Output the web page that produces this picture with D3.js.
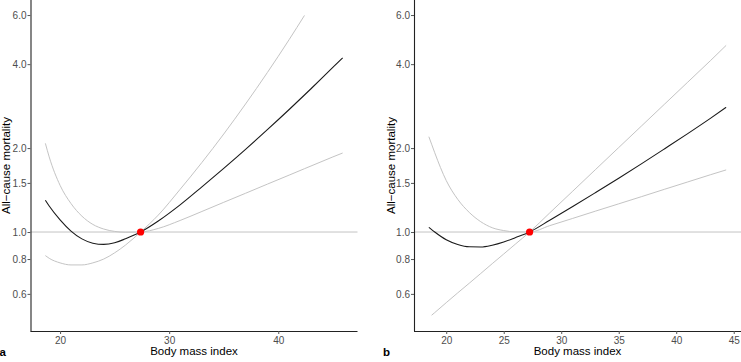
<!DOCTYPE html>
<html>
<head>
<meta charset="utf-8">
<script src="https://cdn.jsdelivr.net/npm/d3@7"></script>
<style>
  body { margin: 0; background: #fff; }
  svg { display: block; font-family: "Liberation Sans", Arial, sans-serif; }
</style>
</head>
<body>
<svg id="chart" width="741" height="362"></svg>
<script>
'use strict'

//---------------------------Datos--------------------------------//
// panel a
var bmiA = [18.65, 19, 20, 21, 22, 23, 24, 25, 26, 27.38, 29, 31, 33, 35, 37, 39, 41, 42.4, 43, 45, 45.9];
var estA = [1.30, 1.24, 1.106, 1.008, 0.945, 0.912, 0.903, 0.915, 0.946, 1.0, 1.095, 1.251, 1.452, 1.692, 1.98, 2.329, 2.751, 3.10, 3.265, 3.893, 4.21];
var ci1A = [2.08, 1.86, 1.47, 1.265, 1.14, 1.065, 1.025, 1.005, 0.998, 1.0, 1.03, 1.10, 1.185, 1.278, 1.377, 1.485, 1.60, 1.687, 1.725, 1.859, 1.92];
var ci2A = [0.823, 0.805, 0.775, 0.762, 0.762, 0.775, 0.80, 0.842, 0.898, 1.0, 1.15, 1.422, 1.776, 2.246, 2.878, 3.732, 4.90, 5.98, null, null, null];
var refA = 27.38;

// panel b
var bmiB = [18.49, 18.73, 19, 20, 21, 22, 23, 24, 25, 26, 27.25, 29, 31, 33, 35, 37, 39, 41, 43, 44.34];
var estB = [1.039, 1.02, 1.0, 0.938, 0.902, 0.885, 0.884, 0.897, 0.921, 0.954, 1.0, 1.102, 1.234, 1.386, 1.559, 1.759, 1.99, 2.254, 2.562, 2.80];
var ci1B = [2.197, 2.065, 1.925, 1.53, 1.31, 1.176, 1.089, 1.036, 1.012, 1.001, 1.0, 1.054, 1.119, 1.189, 1.262, 1.34, 1.424, 1.512, 1.606, 1.670];
var ci2B = [null, 0.503, 0.514, 0.558, 0.605, 0.655, 0.710, 0.770, 0.834, 0.904, 1.0, 1.171, 1.401, 1.678, 2.009, 2.405, 2.879, 3.447, 4.127, 4.67];
var refB = 27.25;

var yTicks = [0.6, 0.8, 1.0, 1.5, 2.0, 4.0, 6.0];
var yLimits = [0.5, 6];
var xTicksA = [20, 30, 40];
var xTicksB = [20, 25, 30, 35, 40, 45];

//---------------------------Grafica--------------------------------//
var svg = d3.select('#chart');
var height = 331;

function expandLog(lim) {
  var l0 = Math.log(lim[0]), l1 = Math.log(lim[1]);
  var pad = (l1 - l0) * 0.05;
  return [Math.exp(l0 - pad), Math.exp(l1 + pad)];
}

function expandLin(lo, hi) {
  var pad = (hi - lo) * 0.05;
  return [lo - pad, hi + pad];
}

function drawPanel(opts) {
  var x = d3.scaleLinear().domain(expandLin(d3.min(opts.bmi), d3.max(opts.bmi))).range([opts.left, opts.right]);
  var y = d3.scaleLog().domain(expandLog(yLimits)).range([height, 0]);

  var g = svg.append('g');

  // linea de referencia en 1.0
  g.append('line')
    .attr('x1', opts.left).attr('x2', opts.right)
    .attr('y1', y(1)).attr('y2', y(1))
    .attr('stroke', '#c4c4c4').attr('stroke-width', 1);

  function serie(vals) {
    return opts.bmi.map(function (b, i) { return { b: b, v: vals[i] }; });
  }

  var linea = d3.line()
    .defined(function (d) { return d.v != null; })
    .x(function (d) { return x(d.b); })
    .y(function (d) { return y(d.v); })
    .curve(d3.curveMonotoneX);

  [opts.ci1, opts.ci2].forEach(function (vals) {
    g.append('path')
      .datum(serie(vals))
      .attr('fill', 'none')
      .attr('stroke', '#c4c4c4')
      .attr('stroke-width', 1)
      .attr('d', linea);
  });

  g.append('path')
    .datum(serie(opts.est))
    .attr('fill', 'none')
    .attr('stroke', '#1a1a1a')
    .attr('stroke-width', 1.1)
    .attr('d', linea);

  g.append('circle')
    .attr('cx', x(opts.ref)).attr('cy', y(1)).attr('r', 3.6)
    .attr('fill', '#ff0000');

  // ejes
  var ejeX = g.append('g')
    .attr('transform', 'translate(0,' + height + ')')
    .call(d3.axisBottom(x).tickValues(opts.xTicks).tickSize(3).tickPadding(2.5).tickSizeOuter(0));
  var ejeY = g.append('g')
    .attr('transform', 'translate(' + opts.left + ',0)')
    .call(d3.axisLeft(y).tickValues(yTicks).tickFormat(d3.format('.1f')).tickSize(3).tickPadding(1).tickSizeOuter(0));

  [ejeX, ejeY].forEach(function (ax) {
    ax.select('.domain').attr('stroke', '#222').attr('stroke-width', 1.1);
    ax.selectAll('.tick line').attr('stroke', '#555');
    ax.selectAll('.tick text').attr('fill', '#4d4d4d').style('font-size', '10px');
  });
  ejeY.select('.domain').attr('d', 'M0.5,0V' + (height + 0.5));
  ejeX.select('.domain').attr('d', 'M' + opts.left + ',0.5H' + opts.right);

  // titulos
  g.append('text')
    .attr('x', (opts.left + opts.right) / 2).attr('y', 355)
    .attr('text-anchor', 'middle')
    .style('font-size', '11.5px').attr('fill', '#000')
    .text('Body mass index');

  g.append('text')
    .attr('transform', 'translate(' + opts.ylabX + ',' + height / 2 + ') rotate(-90)')
    .attr('text-anchor', 'middle')
    .style('font-size', '11.5px').attr('fill', '#000')
    .text('All\u2212cause mortality');

  g.append('text')
    .attr('x', opts.tagX).attr('y', 356)
    .style('font-size', '11.5px').style('font-weight', 'bold').attr('fill', '#000')
    .text(opts.tag);
}

drawPanel({ bmi: bmiA, est: estA, ci1: ci1A, ci2: ci2A, ref: refA, xTicks: xTicksA,
  left: 30.5, right: 357.5, ylabX: 10, tag: 'a', tagX: -0.5 });
drawPanel({ bmi: bmiB, est: estB, ci1: ci1B, ci2: ci2B, ref: refB, xTicks: xTicksB,
  left: 414, right: 741, ylabX: 394.5, tag: 'b', tagX: 383 });
</script>
</body>
</html>
